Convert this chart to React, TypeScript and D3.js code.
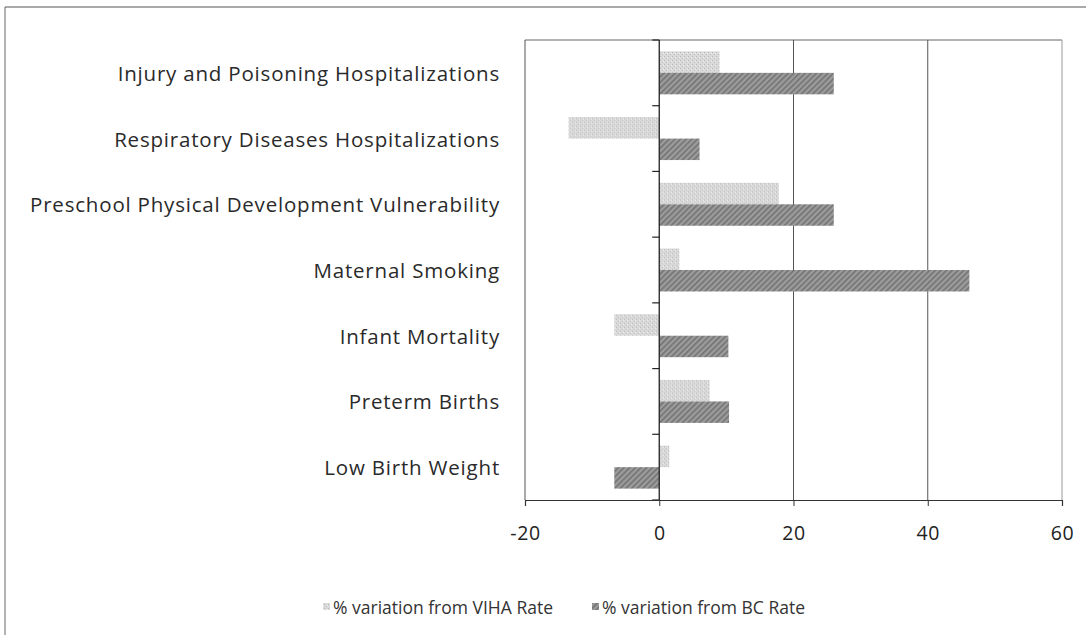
import { useEffect, useRef } from "react";
import * as d3 from "d3";

// categories top to bottom
const categories = [
  "Injury and Poisoning Hospitalizations",
  "Respiratory Diseases Hospitalizations",
  "Preschool Physical Development Vulnerability",
  "Maternal Smoking",
  "Infant Mortality",
  "Preterm Births",
  "Low Birth Weight",
];
const vihaValues = [9, -13.5, 17.8, 3, -6.7, 7.5, 1.5];
const bcValues = [26, 6, 26, 46.2, 10.3, 10.4, -6.7];
const seriesNames = ["% variation from VIHA Rate", "% variation from BC Rate"];
const xTicks = [-20, 0, 20, 40, 60];

const width = 1086;
const height = 635;
const plot = { left: 525, right: 1062, top: 40, bottom: 500 };
const font = "'Open Sans', Lato, sans-serif";

const App = () => {
  const axisRef = useRef<SVGGElement>(null);

  const x = d3.scaleLinear().domain([-20, 60]).range([plot.left, plot.right]);
  const y = d3.scaleBand().domain(categories).range([plot.top, plot.bottom]).padding(0);
  const inner = d3
    .scaleBand()
    .domain(["viha", "bc"])
    .range([0, y.bandwidth()])
    .paddingInner(0)
    .paddingOuter(0.53);

  const rows = categories.map((c, i) => ({ c, viha: vihaValues[i], bc: bcValues[i] }));

  useEffect(() => {
    const g = d3.select(axisRef.current);
    g.call(
      d3
        .axisBottom(x)
        .tickValues(xTicks)
        .tickSize(6)
        .tickPadding(20)
        .tickFormat((d) => `${d}`)
    );
    g.select(".domain").attr("stroke", "#333").attr("stroke-width", 1.2);
    g.selectAll(".tick line").attr("stroke", "#333");
    g.selectAll("text")
      .attr("font-size", 19.5)
      .attr("font-family", font)
      .attr("letter-spacing", 0.6)
      .attr("fill", "#222");
  }, []);

  const zero = x(0);
  const bandEdges = d3.range(categories.length + 1).map((i) => plot.top + i * y.step());

  return (
    <svg
      width={width}
      height={height}
      style={{ position: "absolute", left: 0, top: 0, background: "#fff" }}
    >
      <defs>
        <pattern id="light" width="4" height="4" patternUnits="userSpaceOnUse">
          <rect width="4" height="4" fill="#d9d9d9" />
          <rect x="0" y="0" width="1" height="1" fill="#b8b8b8" />
          <rect x="2" y="2" width="1" height="1" fill="#c0c0c0" />
          <rect x="3" y="1" width="1" height="1" fill="#efefef" />
        </pattern>
        <pattern
          id="dark"
          width="4"
          height="4"
          patternUnits="userSpaceOnUse"
          patternTransform="rotate(45)"
        >
          <rect width="4" height="4" fill="#9c9c9c" />
          <rect width="1.6" height="4" fill="#727272" />
        </pattern>
      </defs>

      {/* outer frame */}
      <line x1={5} x2={width} y1={7} y2={7} stroke="#555" strokeWidth={1} />
      <line x1={5} x2={5} y1={7} y2={height} stroke="#666" strokeWidth={1} />

      {/* plot border and gridlines */}
      <line x1={plot.left} x2={plot.right} y1={plot.top} y2={plot.top} stroke="#666" />
      <line x1={plot.right} x2={plot.right} y1={plot.top} y2={plot.bottom} stroke="#999" />
      <line x1={plot.left} x2={plot.left} y1={plot.top} y2={plot.bottom} stroke="#555" />
      {[20, 40].map((t) => (
        <line key={t} x1={x(t)} x2={x(t)} y1={plot.top} y2={plot.bottom} stroke="#555" />
      ))}

      {/* bars */}
      {rows.map((r) => (
        <g key={r.c} transform={`translate(0,${y(r.c)})`}>
          <rect
            x={x(Math.min(0, r.viha))}
            y={inner("viha")}
            width={Math.abs(x(r.viha) - zero)}
            height={inner.bandwidth()}
            fill="url(#light)"
          />
          <rect
            x={x(Math.min(0, r.bc))}
            y={inner("bc")}
            width={Math.abs(x(r.bc) - zero)}
            height={inner.bandwidth()}
            fill="url(#dark)"
          />
        </g>
      ))}

      {/* category axis at zero */}
      <line x1={zero} x2={zero} y1={plot.top} y2={plot.bottom} stroke="#222" strokeWidth={1.3} />
      {bandEdges.map((e, i) => (
        <line key={i} x1={zero - 7} x2={zero} y1={e} y2={e} stroke="#222" strokeWidth={1.2} />
      ))}

      {/* category labels */}
      {categories.map((c) => (
        <text
          key={c}
          x={500}
          y={(y(c) ?? 0) + y.bandwidth() / 2}
          textAnchor="end"
          dominantBaseline="central"
          fontFamily={font}
          fontSize={20.5}
          letterSpacing={0.8}
          fill="#2a2a2a"
        >
          {c}
        </text>
      ))}

      <g ref={axisRef} transform={`translate(0,${plot.bottom})`} />

      {/* legend */}
      <g fontFamily={font} fontSize={17.5} fill="#333">
        <rect x={323} y={603} width={7} height={7} fill="url(#light)" />
        <text x={333} y={607} dominantBaseline="central">
          {seriesNames[0]}
        </text>
        <rect x={592} y={603} width={7} height={7} fill="url(#dark)" />
        <text x={602} y={607} dominantBaseline="central">
          {seriesNames[1]}
        </text>
      </g>
    </svg>
  );
};

export default App;
